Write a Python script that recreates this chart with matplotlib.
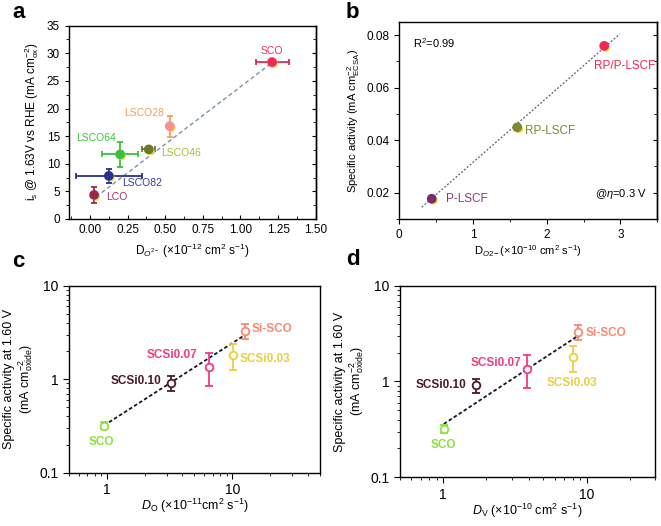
import numpy as np
import matplotlib
matplotlib.use("Agg")
import matplotlib.pyplot as plt
import matplotlib.ticker as mtick
import matplotlib.patheffects as pe

# ── 0. global style ─────────────────────────────────────────────
plt.rcParams['font.family'] = ['Liberation Sans', 'DejaVu Sans']
plt.rcParams['mathtext.fontset'] = 'custom'
plt.rcParams['mathtext.rm'] = 'Liberation Sans'
plt.rcParams['mathtext.it'] = 'Liberation Sans:italic'
plt.rcParams['mathtext.bf'] = 'Liberation Sans:bold'
plt.rcParams['axes.linewidth'] = 1.0

# ── 1. data ─────────────────────────────────────────────────────
# panel a
a_names = ["SCO", "LSCO28", "LSCO46", "LSCO64", "LSCO82", "LCO"]
a_x = [1.21, 0.53, 0.39, 0.20, 0.125, 0.027]
a_y = [28.4, 16.8, 12.6, 11.7, 7.8, 4.35]
a_xerr = [0.11, 0.0, 0.045, 0.12, 0.22, 0.02]
a_yerr = [0.0, 1.9, 0.0, 2.2, 1.2, 1.5]
a_marker_col = ["#f02a55", "#f89090", "#6b7a28", "#3cbf3c", "#26308e", "#98284a"]
a_err_col = ["#e02a50", "#f0a060", "#6b7a28", "#3cbf3c", "#26308e", "#98284a"]
a_label_col = ["#f0305a", "#f4a050", "#a6bd30", "#38c838", "#3040a0", "#a03070"]
a_label_x = [1.21, 0.36, 0.47, 0.04, 0.215, 0.105]
a_label_y = [30.5, 19.1, 12.0, 14.6, 6.6, 3.9]
a_label_ha = ["center", "center", "left", "center", "left", "left"]
a_fit_x = [0.04, 1.21]
a_fit_y = [4.0, 28.3]

# panel b
b_names = ["RP/P-LSCF", "RP-LSCF", "P-LSCF"]
b_x = [2.78, 1.60, 0.44]
b_y = [0.0759, 0.0449, 0.0177]
b_col = ["#f0284f", "#7a8a30", "#7a2a70"]
b_label_col = ["#f0284f", "#7a8a30", "#8a3a7a"]
b_label_x = [2.64, 1.71, 0.63]
b_label_y = [0.0683, 0.0434, 0.0175]
b_fit_x = [0.305, 2.99]
b_fit_y = [0.0145, 0.0804]

# panels c and d (same samples, same activities)
cd_names = ["SCO", "SCSi0.10", "SCSi0.07", "SCSi0.03", "Si-SCO"]
cd_y = [0.318, 0.918, 1.36, 1.82, 3.27]
cd_y_lo = [0.29, 0.75, 0.85, 1.26, 2.68]
cd_y_hi = [0.35, 1.07, 1.90, 2.36, 3.86]
cd_col = ["#8ee040", "#4a1a2a", "#f03c82", "#e8d040", "#f88870"]
c_x = [0.95, 3.22, 6.54, 10.2, 12.6]
d_x = [1.01, 1.70, 3.87, 7.98, 8.67]

c_label_x = [0.91, 2.71, 5.3, 11.5, 14.3]
c_label_y = [0.215, 0.96, 1.82, 1.64, 3.44]
c_label_ha = ["center", "right", "right", "left", "left"]
c_fit_x = [0.95, 12.6]
c_fit_y = [0.32, 2.97]

d_label_x = [1.01, 1.46, 3.49, 7.87, 9.89]
d_label_y = [0.217, 0.91, 1.57, 0.957, 3.18]
d_label_ha = ["center", "right", "right", "center", "left"]
d_fit_x = [1.01, 8.67]
d_fit_y = [0.36, 2.98]

shadow = [pe.SimplePatchShadow(offset=(1.2, -1.2), shadow_rgbFace="#f4e040", alpha=1.0), pe.Normal()]

fig = plt.figure(figsize=(6.61, 5.26), dpi=100)

# ── 2. panel a ──────────────────────────────────────────────────
ax = fig.add_axes([0.1044, 0.5837, 0.3732, 0.3675])
ax.plot(a_fit_x, a_fit_y, ls=(0, (3, 2)), color="#7a93a3", lw=1.0, zorder=1)
for i in range(len(a_names)):
    line, caps, bars = ax.errorbar(a_x[i], a_y[i], xerr=a_xerr[i] or None, yerr=a_yerr[i] or None,
                                   fmt='o', ms=6, color=a_marker_col[i], ecolor=a_err_col[i],
                                   elinewidth=1.3, capsize=2, capthick=1.3, zorder=3)
    line.set_path_effects(shadow)
    ax.text(a_label_x[i], a_label_y[i], a_names[i], color=a_label_col[i], fontsize=7.5,
            ha=a_label_ha[i], va='center')
ax.set_xlim(-0.14, 1.5)
ax.set_ylim(0, 35)
ax.xaxis.set_major_locator(mtick.MultipleLocator(0.25))
ax.xaxis.set_minor_locator(mtick.MultipleLocator(0.125))
ax.xaxis.set_major_formatter(mtick.FormatStrFormatter('%.2f'))
ax.yaxis.set_major_locator(mtick.MultipleLocator(5))
ax.yaxis.set_minor_locator(mtick.MultipleLocator(2.5))
ax.tick_params(axis='x', which='both', direction='in', labelsize=8.5)
ax.tick_params(axis='y', which='both', direction='out', labelsize=8.5)
ax.tick_params(which='major', length=3)
ax.tick_params(which='minor', length=2)
sec = ax.secondary_yaxis('right')
sec.yaxis.set_major_locator(mtick.MultipleLocator(5))
sec.yaxis.set_minor_locator(mtick.MultipleLocator(2.5))
sec.tick_params(which='both', direction='in', labelright=False)
sec.tick_params(which='major', length=3)
sec.tick_params(which='minor', length=2)
ax.set_xlabel(r'D$_{O^{2-}}$ (×10$^{-12}$ cm$^2$ s$^{-1}$)', fontsize=8.5, labelpad=4)
ax.set_ylabel(r'i$_\mathregular{s}$ @ 1.63V vs RHE (mA $\mathregular{cm^{-2}_{ox}}$)', fontsize=8.5)

# ── 3. panel b ──────────────────────────────────────────────────
ax = fig.add_axes([0.6041, 0.5837, 0.3903, 0.3745])
ax.plot(b_fit_x, b_fit_y, ls=(0, (1.5, 1.5)), color="#555f66", lw=0.9, zorder=1)
for i in range(len(b_names)):
    line, = ax.plot(b_x[i], b_y[i], 'o', ms=6, color=b_col[i], zorder=3)
    line.set_path_effects(shadow)
    ax.text(b_label_x[i], b_label_y[i], b_names[i], color=b_label_col[i], fontsize=8.5,
            ha='left', va='center')
ax.text(0.19, 0.0768, r'R$^2$=0.99', fontsize=8, ha='left', va='center')
ax.text(3.36, 0.0196, r'@$\eta$=0.3 V', fontsize=8, ha='right', va='center')
ax.set_xlim(0, 3.5)
ax.set_ylim(0.01, 0.085)
ax.xaxis.set_major_locator(mtick.MultipleLocator(1))
ax.xaxis.set_minor_locator(mtick.MultipleLocator(0.5))
ax.yaxis.set_major_locator(mtick.FixedLocator([0.02, 0.04, 0.06, 0.08]))
ax.yaxis.set_minor_locator(mtick.MultipleLocator(0.01))
ax.yaxis.set_major_formatter(mtick.FormatStrFormatter('%.2f'))
ax.tick_params(which='both', direction='out', labelsize=8.5)
ax.tick_params(which='major', length=3.5)
ax.tick_params(which='minor', length=2)
sec = ax.secondary_yaxis('right')
sec.yaxis.set_major_locator(mtick.MultipleLocator(0.02))
sec.yaxis.set_minor_locator(mtick.MultipleLocator(0.01))
sec.tick_params(which='both', direction='in', labelright=False)
sec.tick_params(which='major', length=3)
sec.tick_params(which='minor', length=2)
ax.set_xlabel(r'D$_{O2-}$(×10$^{-10}$ cm$^2$ s$^{-1}$)', fontsize=8, labelpad=2)
ax.set_ylabel(r'Specific activity (mA $\mathregular{cm^{-2}_{ECSA}}$)', fontsize=8, labelpad=3)


# ── 4. panels c, d ──────────────────────────────────────────────
def log_panel(rect, xs, fit_x, fit_y, lx, ly, lha, xmax, xlabel, xpad):
    ax = fig.add_axes(rect)
    ax.set_xscale('log')
    ax.set_yscale('log')
    ax.plot(fit_x, fit_y, ls=(0, (2, 1.3)), color="#14142a", lw=1.3, zorder=1)
    for i in range(len(cd_names)):
        yerr = [[cd_y[i] - cd_y_lo[i]], [cd_y_hi[i] - cd_y[i]]]
        ax.errorbar(xs[i], cd_y[i], yerr=yerr, fmt='o', ms=5.5, mfc='white', mec=cd_col[i],
                    mew=1.3, color=cd_col[i], elinewidth=1.3, capsize=3, capthick=1.3, zorder=3)
        ax.text(lx[i], ly[i], cd_names[i], color=cd_col[i], fontsize=8.5, fontweight='bold',
                ha=lha[i], va='center')
    ax.set_xlim(0.5, xmax)
    ax.set_ylim(0.1, 10)
    for axis in (ax.xaxis, ax.yaxis):
        axis.set_major_locator(mtick.LogLocator(base=10))
        axis.set_minor_locator(mtick.LogLocator(base=10, subs=np.arange(2, 10)))
        axis.set_major_formatter(mtick.FuncFormatter(lambda v, p: f'{v:g}'))
        axis.set_minor_formatter(mtick.NullFormatter())
    ax.tick_params(which='both', direction='out', labelsize=10)
    ax.tick_params(which='major', length=4)
    ax.tick_params(which='minor', length=2.5)
    ax.set_xlabel(xlabel, fontsize=9, labelpad=xpad)
    ax.set_ylabel('Specific activity at 1.60 V\n' + r'(mA $\mathregular{cm^{-2}_{oxide}}$)', fontsize=9,
                  labelpad=3, linespacing=1.1)
    return ax


log_panel([0.1044, 0.1013, 0.3797, 0.3555], c_x, c_fit_x, c_fit_y, c_label_x, c_label_y,
          c_label_ha, 50, r'$D_\mathregular{O}$ (×10$^{-11}$cm$^2$ s$^{-1}$)', 0)
log_panel([0.6051, 0.0926, 0.3858, 0.3643], d_x, d_fit_x, d_fit_y, d_label_x, d_label_y,
          d_label_ha, 30, r'$D_\mathregular{V}$ (×10$^{-10}$ cm$^2$ s$^{-1}$)', 0)

# ── 5. panel letters ────────────────────────────────────────────
for x, y, s in [(0.019, 0.966, 'a'), (0.523, 0.966, 'b'), (0.019, 0.492, 'c'), (0.523, 0.496, 'd')]:
    fig.text(x, y, s, fontsize=16, fontweight='bold', va='baseline')

fig.savefig("out.png", dpi=100)
